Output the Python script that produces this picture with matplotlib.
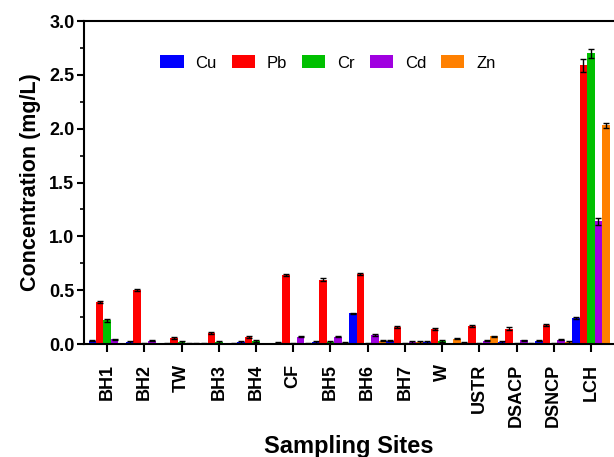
import numpy as np
import matplotlib.pyplot as plt
from matplotlib.ticker import MultipleLocator

plt.rcParams['font.family'] = ['Liberation Sans', 'DejaVu Sans']

sites = ['BH1', 'BH2', 'TW', 'BH3', 'BH4', 'CF', 'BH5', 'BH6', 'BH7', 'W',
         'USTR', 'DSACP', 'DSNCP', 'LCH']
metals = ['Cu', 'Pb', 'Cr', 'Cd', 'Zn']
colors = ['#0000FF', '#FF0000', '#00C000', '#A000E0', '#FF8000']

cu = [0.03, 0.02, 0.01, 0.005, 0.02, 0.012, 0.02, 0.285, 0.03, 0.02, 0.015, 0.02, 0.03, 0.24]
pb = [0.39, 0.50, 0.056, 0.10, 0.07, 0.64, 0.60, 0.655, 0.16, 0.14, 0.17, 0.145, 0.18, 2.59]
cr = [0.22, 0.0, 0.02, 0.02, 0.03, 0.0, 0.02, 0.005, 0.005, 0.03, 0.005, 0.003, 0.003, 2.70]
cd = [0.046, 0.03, 0.005, 0.0, 0.0, 0.07, 0.07, 0.085, 0.02, 0.0, 0.03, 0.035, 0.04, 1.14]
zn = [0.0, 0.0, 0.005, 0.01, 0.0, 0.005, 0.015, 0.03, 0.02, 0.05, 0.075, 0.005, 0.02, 2.03]

cu_err = [0.005] * 13 + [0.01]
pb_err = [0.01] * 13 + [0.06]
cr_err = [0.01] * 13 + [0.04]
cd_err = [0.005] * 13 + [0.03]
zn_err = [0.005] * 13 + [0.02]

values = [cu, pb, cr, cd, zn]
errors = [cu_err, pb_err, cr_err, cd_err, zn_err]

fig = plt.figure(figsize=(6.14, 4.57), dpi=100)
ax = fig.add_axes([0.137, 0.247, 0.863, 0.707])

x = np.arange(len(sites))
w = 0.2
for i, (name, vals, errs, c) in enumerate(zip(metals, values, errors, colors)):
    ax.bar(x + (i - 2) * w, vals, w, color=c, label=name,
           yerr=errs, error_kw=dict(ecolor='black', elinewidth=1, capsize=2, capthick=1))

ax.set_xlim(-0.62, 13.62)
ax.set_ylim(0, 3.0)
ax.yaxis.set_major_locator(MultipleLocator(0.5))
ax.yaxis.set_minor_locator(MultipleLocator(0.25))
ax.set_xticks(x)
ax.set_xticklabels(sites, rotation=90, fontsize=13, fontweight='bold')
for lab in ax.get_yticklabels():
    lab.set_fontweight('bold')
ax.tick_params(axis='y', labelsize=13, width=1.5, length=5, pad=2)
ax.tick_params(axis='y', which='minor', width=1.2, length=3)
ax.tick_params(axis='x', width=1.5, length=6, pad=8)

ax.spines['right'].set_visible(False)
for s in ['left', 'bottom', 'top']:
    ax.spines[s].set_linewidth(1.5)

ax.set_ylabel('Concentration (mg/L)', fontsize=15.5, fontweight='bold', labelpad=6)
ax.set_xlabel('Sampling Sites', fontsize=17, fontweight='bold', labelpad=6)

ax.legend(loc='upper center', bbox_to_anchor=(0.46, 0.94), ncol=5, frameon=False,
          fontsize=12, handlelength=1.4, handleheight=0.8, columnspacing=0.9,
          handletextpad=0.7)

fig.savefig('out.png', dpi=100)
